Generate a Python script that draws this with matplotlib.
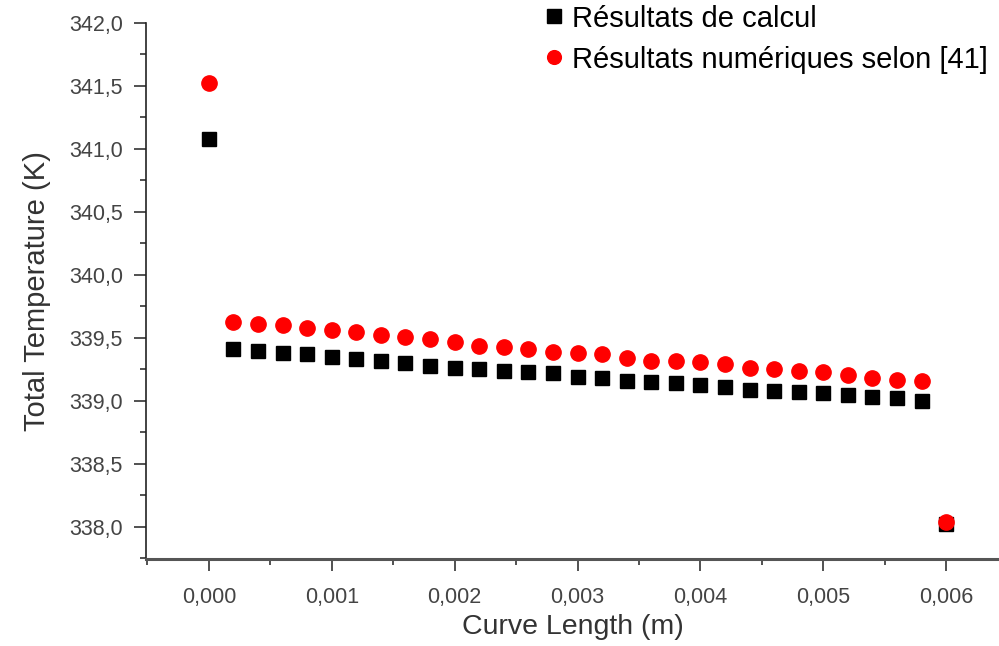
import numpy as np
import matplotlib
matplotlib.use("Agg")
import matplotlib.pyplot as plt
from matplotlib.ticker import FuncFormatter, MultipleLocator

# curve length (m)
x_m = [0.0000, 0.0002, 0.0004, 0.0006, 0.0008, 0.0010, 0.0012, 0.0014, 0.0016,
       0.0018, 0.0020, 0.0022, 0.0024, 0.0026, 0.0028, 0.0030, 0.0032, 0.0034,
       0.0036, 0.0038, 0.0040, 0.0042, 0.0044, 0.0046, 0.0048, 0.0050, 0.0052,
       0.0054, 0.0056, 0.0058, 0.0060]

# total temperature (K)
t_calcul = [341.08, 339.41, 339.40, 339.38, 339.37, 339.35, 339.33, 339.32, 339.30,
            339.28, 339.26, 339.25, 339.24, 339.23, 339.22, 339.19, 339.18, 339.16,
            339.15, 339.14, 339.13, 339.11, 339.09, 339.08, 339.07, 339.06, 339.05,
            339.03, 339.02, 339.00, 338.02]
t_ref41 = [341.52, 339.63, 339.61, 339.60, 339.58, 339.56, 339.545, 339.52, 339.51,
           339.49, 339.47, 339.44, 339.43, 339.41, 339.39, 339.38, 339.37, 339.34,
           339.32, 339.315, 339.31, 339.29, 339.26, 339.25, 339.24, 339.23, 339.21,
           339.18, 339.17, 339.16, 338.04]

label_calcul = "Résultats de calcul"
label_ref41 = "Résultats numériques selon [41]"

plt.rcParams['font.family'] = ['Liberation Sans', 'DejaVu Sans']

fig = plt.figure(figsize=(9.99, 6.46), dpi=100)
ax = fig.add_axes([0.146, 0.1347, 0.854, 0.8297])

ax.plot(x_m, t_calcul, 's', color='black', markersize=10.5, label=label_calcul)
ax.plot(x_m, t_ref41, 'o', color='red', markersize=11, label=label_ref41)

ax.set_xlim(-0.000513, 0.00643)
ax.set_ylim(337.746, 342.0)

ax.xaxis.set_major_locator(MultipleLocator(0.001))
ax.xaxis.set_minor_locator(MultipleLocator(0.0005))
ax.yaxis.set_major_locator(MultipleLocator(0.5))
ax.yaxis.set_minor_locator(MultipleLocator(0.25))
ax.xaxis.set_major_formatter(FuncFormatter(lambda v, p: f"{v:.3f}".replace('.', ',').replace('-', '')))
ax.yaxis.set_major_formatter(FuncFormatter(lambda v, p: f"{v:.1f}".replace('.', ',')))

ax.spines['top'].set_visible(False)
ax.spines['right'].set_visible(False)
ax.spines['left'].set_color('#222222')
ax.spines['left'].set_linewidth(1.2)
ax.spines['bottom'].set_color('#555555')
ax.spines['bottom'].set_linewidth(2.2)

ax.tick_params(axis='both', which='major', direction='out', length=8.5, width=1.2,
               color='#333333', labelsize=15.5, labelcolor='#444444')
ax.tick_params(axis='both', which='minor', direction='out', length=4.5, width=1.2,
               color='#333333')
ax.tick_params(axis='x', which='major', pad=12)
ax.tick_params(axis='y', which='major', pad=8)

ax.set_xlabel("Curve Length (m)", fontsize=20.5, color='#333333', labelpad=4)
ax.set_ylabel("Total Temperature (K)", fontsize=21, color='#333333', labelpad=13)

ax.legend(loc='upper left', bbox_to_anchor=(0.546, 0.993), bbox_transform=fig.transFigure,
          frameon=False, fontsize=21, handlelength=0.6, handletextpad=0.3,
          labelspacing=0.45, borderpad=0, borderaxespad=0, markerscale=0.9)

fig.savefig("out.png", dpi=100)
